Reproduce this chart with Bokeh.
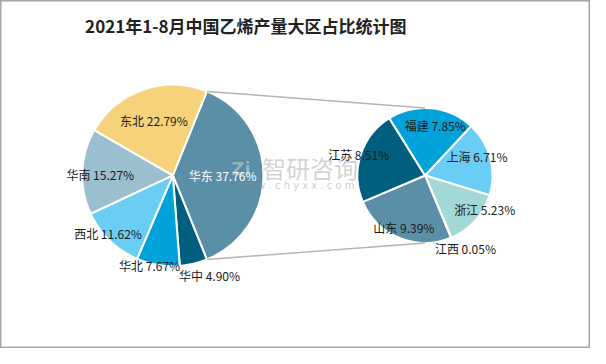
import numpy as np
from bokeh.plotting import figure
from bokeh.models import Range1d, ColumnDataSource
from bokeh.core.properties import value
from bokeh.embed import file_html
from bokeh.resources import INLINE

# ---------------- data ----------------
title = "2021年1-8月中国乙烯产量大区占比统计图"
main_cats = ["华东", "华中", "华北", "西北", "华南", "东北"]
main_vals = [37.76, 4.90, 7.67, 11.62, 15.27, 22.79]
sub_cats = ["上海", "浙江", "江西", "山东", "江苏", "福建"]
sub_vals = [6.71, 5.23, 0.05, 9.39, 8.51, 7.85]

# ---------------- styles ----------------
main_colors = ["#5B8FA8", "#005F7F", "#00A2DA", "#6ACDF3", "#9CBFCF", "#F6D27A"]
sub_colors = ["#6ACDF3", "#A2D8D6", "#8FB3C6", "#5B8FA8", "#005F7F", "#00A2DA"]
main_label_r = [0.55, 1.17, 1.03, 0.96, 0.80, 0.64]
main_label_da = [0, -7, 5, 4, -2, 0]
sub_label_r = [0.82, 1.02, 1.24, 0.83, 1.03, 0.76]
sub_label_da = [-5, -12, -6, 0, 0, 6]

W, H = 590, 348
SX, SY = W / 606, H / 364
SR = (SX + SY) / 2
FONT = "Noto Sans CJK SC"


def X(px):
    return px * SX


def Y(py):
    return H - py * SY


p = figure(width=W, height=H, output_backend="svg", toolbar_location=None,
           x_range=Range1d(0, W), y_range=Range1d(0, H), min_border=0)
p.axis.visible = False
p.grid.visible = False
p.outline_line_color = "#A6A6A6"
p.outline_line_width = 2
p.background_fill_color = "white"
p.border_fill_color = "white"

# pie geometry (reference pixel coords)
LC = (177, 183)
LR = 94
RC = (436, 183)
RR = 70


def slices(vals, start_cw):
    vals = np.asarray(vals, dtype=float)
    frac = vals / vals.sum()
    cum = np.concatenate([[0], np.cumsum(frac)]) * 360 + start_cw
    return cum[:-1], cum[1:]


# main pie: first slice ("other" group) centred on the right side
m_first = main_vals[0] / sum(main_vals) * 360
ms, me = slices(main_vals, 90 - m_first / 2)
src_m = ColumnDataSource(dict(
    x=[X(LC[0])] * len(main_vals), y=[Y(LC[1])] * len(main_vals),
    start=90 - me, end=90 - ms, color=main_colors))
p.wedge(x="x", y="y", radius=LR * SR, start_angle="start", end_angle="end",
        start_angle_units="deg", end_angle_units="deg",
        fill_color="color", line_color="white",
        line_width=2, source=src_m)

ss, se = slices(sub_vals, 43)
src_s = ColumnDataSource(dict(
    x=[X(RC[0])] * len(sub_vals), y=[Y(RC[1])] * len(sub_vals),
    start=90 - se, end=90 - ss, color=sub_colors))
p.wedge(x="x", y="y", radius=RR * SR, start_angle="start", end_angle="end",
        start_angle_units="deg", end_angle_units="deg",
        fill_color="color", line_color="white",
        line_width=2, source=src_s)

# connector lines from edges of the grouped slice to top/bottom of secondary pie
a_top = np.radians(90 - m_first / 2)
a_bot = np.radians(90 + m_first / 2)
lx0 = X(LC[0]) + LR * SR * np.sin(a_top)
ly0 = Y(LC[1]) + LR * SR * np.cos(a_top)
lx1 = X(LC[0]) + LR * SR * np.sin(a_bot)
ly1 = Y(LC[1]) + LR * SR * np.cos(a_bot)
p.segment(x0=[lx0, lx1], y0=[ly0, ly1],
          x1=[X(RC[0]), X(RC[0])], y1=[Y(RC[1]) + RR * SR, Y(RC[1]) - RR * SR],
          line_color="#B4B4B4", line_width=1.5)


def labels(cats, vals, s, e, c, r, rf, da, colors):
    xs, ys, txt = [], [], []
    for cat, v, a0, a1, f, d in zip(cats, vals, s, e, rf, da):
        m = np.radians((a0 + a1) / 2 + d)
        xs.append(X(c[0]) + r * SR * f * np.sin(m))
        ys.append(Y(c[1]) + r * SR * f * np.cos(m))
        txt.append(f"{cat} {v:.2f}%")
    return ColumnDataSource(dict(x=xs, y=ys, t=txt, c=colors))


lab_m = labels(main_cats, main_vals, ms, me, LC, LR, main_label_r, main_label_da,
               ["white"] + ["#1A1A1A"] * 5)
lab_s = labels(sub_cats, sub_vals, ss, se, RC, RR, sub_label_r, sub_label_da,
               ["#1A1A1A"] * 6)

# watermark
p.quad(left=[X(236)], right=[X(258)], top=[Y(165)], bottom=[Y(186)],
       fill_color="#5E7F99", fill_alpha=0.18, line_color=None)
p.text(x=[X(247)], y=[Y(176)], text=["Zi"], text_font=value("DejaVu Sans"),
       text_font_style="bold", text_font_size="18px", text_color="#FFFFFF",
       text_alpha=0.35, text_align="center", text_baseline="middle")
p.text(x=[X(318)], y=[Y(175)], text=["智研咨询"], text_font=value(FONT),
       text_font_size="24px", text_color="#9A9A9A", text_alpha=0.45,
       text_align="center", text_baseline="middle")
p.text(x=[X(302)], y=[Y(194)], text=["w w w . c h y x x . c o m"],
       text_font=value("DejaVu Sans"), text_font_size="10px",
       text_color="#8A8A8A", text_alpha=0.45,
       text_align="center", text_baseline="middle")

for src in (lab_m, lab_s):
    p.text(x="x", y="y", text="t", text_color="c", source=src,
           text_font=value(FONT), text_font_size="12px",
           text_align="center", text_baseline="middle")

p.text(x=[X(252)], y=[Y(26)], text=[title], text_font=value(FONT),
       text_font_style="bold", text_font_size="17px", text_color="#222222",
       text_align="center", text_baseline="middle")

open("out.html", "w").write(file_html(p, INLINE))
